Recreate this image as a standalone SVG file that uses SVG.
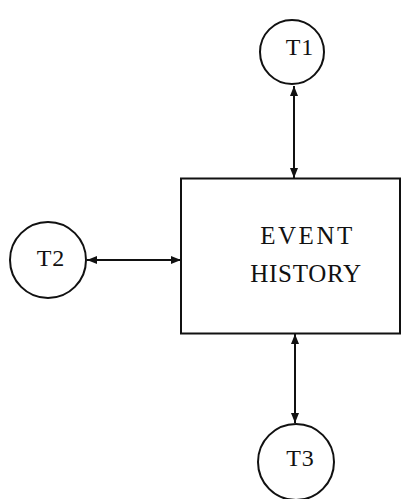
<svg xmlns="http://www.w3.org/2000/svg" width="401" height="499" viewBox="0 0 401 499">
  <style>
    .node { fill: #fff; stroke: #111; stroke-width: 2; }
    .label { font-family: "Liberation Serif", "DejaVu Serif", serif; fill: #111; text-anchor: middle; }
    .small { font-size: 24px; letter-spacing: 1px; }
    .big { font-size: 25px; }
    .link { stroke: #111; stroke-width: 2; fill: none; marker-start: url(#head); marker-end: url(#head); }
  </style>
  <defs>
    <marker id="head" viewBox="0 0 10 8" refX="10" refY="4" markerWidth="10" markerHeight="8" markerUnits="userSpaceOnUse" orient="auto-start-reverse">
      <path d="M0,0 L10,4 L0,8 Z" fill="#111"/>
    </marker>
  </defs>
  <rect width="401" height="499" fill="#fff"/>

  <g id="connectors">
    <line class="link" x1="294" y1="86" x2="294" y2="178"/>
    <line class="link" x1="87" y1="260" x2="181" y2="260"/>
    <line class="link" x1="295" y1="334" x2="295" y2="423"/>
  </g>

  <g id="event-history">
    <rect class="node" x="181" y="178.5" width="219" height="155"/>
    <text class="label big" x="307.5" y="244" letter-spacing="2.5">EVENT</text>
    <text class="label big" x="306" y="282" letter-spacing="0.7">HISTORY</text>
  </g>

  <g id="t1">
    <circle class="node" cx="292" cy="52" r="32"/>
    <text class="label small" x="300" y="55">T1</text>
  </g>

  <g id="t2">
    <circle class="node" cx="48" cy="260" r="38"/>
    <text class="label small" x="51" y="266">T2</text>
  </g>

  <g id="t3">
    <circle class="node" cx="296" cy="462" r="38"/>
    <text class="label small" x="300.5" y="466">T3</text>
  </g>
</svg>
